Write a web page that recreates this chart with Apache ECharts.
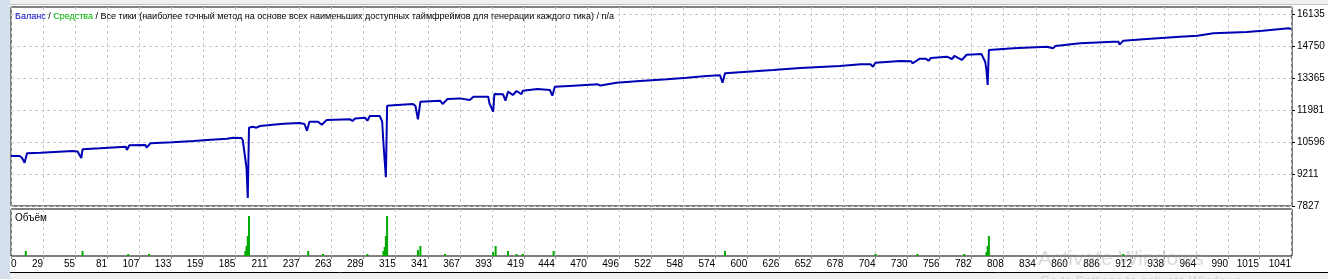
<!DOCTYPE html>
<html><head><meta charset="utf-8">
<script src="https://cdn.jsdelivr.net/npm/echarts@6/dist/echarts.min.js"></script>
<style>html,body{margin:0;padding:0;background:#fff;overflow:hidden}#c{width:1343px;height:279px}</style>
</head><body><div id="c"></div>
<script>
// Balance curve: trade number / balance
const balanceX = [3,10,12,14,16,27,53,57,60,61,75,96,97,99,112,113,116,134,151,162,178,183,190,191,194,195,196,199,202,205,211,224,237,241,243,245,252,255,259,278,280,282,290,292,294,302,304,305,307,308,316,329,331,333,335,351,353,357,367,375,378,390,391,394,395,402,404,406,410,413,417,418,430,440,442,444,459,479,481,482,494,513,535,551,567,578,580,582,600,621,643,659,675,692,700,702,704,724,733,734,740,745,747,749,762,766,768,774,778,790,793,794,795,796,816,843,848,850,870,897,901,902,905,924,951,965,978,1005,1018,1039,1041];
const balanceY = [9990,9990,9904,9701,10107,10133,10207,10185,9904,10280,10324,10393,10250,10454,10466,10350,10540,10583,10640,10683,10739,10782,10765,10661,9471,8173,11215,11258,11215,11289,11319,11388,11418,11375,11085,11475,11475,11345,11548,11577,11505,11613,11648,11518,11721,11721,11475,10553,9069,12167,12197,12241,12155,11579,12340,12383,12240,12454,12484,12414,12557,12557,12271,11907,12673,12661,12383,12773,12630,12803,12661,12817,12890,12846,12600,12989,13034,13093,13040,13107,13162,13236,13310,13379,13452,13483,13162,13569,13639,13712,13798,13842,13885,13958,13958,13855,14028,14101,14092,14001,14201,14201,14114,14231,14287,14188,14318,14145,14374,14400,14071,13712,13063,14577,14651,14720,14651,14750,14867,14936,14936,14807,14980,15053,15153,15196,15300,15357,15412,15517,15486];
// Volume pane
const volumeX = [15,61,98,115,193,194,195,196,244,256,292,305,306,307,308,333,335,355,394,396,406,413,418,443,582,704,738,776,794,795,796,905];
const volumeY = [5,5,2,2,5,10,20,40,5,2,2,5,9,20,40,6,10,2,4,10,5,2,2,5,5,2,2,2,4,10,20,2];
// Axis tick labels
const xTickLabels = [0,29,55,81,107,133,159,185,211,237,263,289,315,341,367,393,419,444,470,496,522,548,574,600,626,652,678,704,730,756,782,808,834,860,886,912,938,964,990,1015,1041];
const yTickLabels = [7827,9211,10596,11981,13365,14750,16135];

const X_MIN = 3, X_MAX = 1041.8, Y_MIN = 7827, Y_MAX = 16438;
const FONT = 'Liberation Sans';
const xPositions = xTickLabels.map(v => Math.max(v, X_MIN));
const gridDash = {show:true, lineStyle:{color:'#c8c8c8', type:[3,3], width:1}};

const chart = echarts.init(document.getElementById('c'), null, {renderer:'canvas'});
chart.setOption({
  animation:false,
  backgroundColor:'#ffffff',
  title:{
    left:15, top:12, padding:0,
    text:'{b|Баланс} / {g|Средства} / Все тики (наиболее точный метод на основе всех наименьших доступных таймфреймов для генерации каждого тика) / n/a',
    textStyle:{fontFamily:FONT, fontSize:9, fontWeight:'normal', color:'#000',
      rich:{b:{color:'#0000c8', fontFamily:FONT, fontSize:9}, g:{color:'#00b400', fontFamily:FONT, fontSize:9}}}
  },
  grid:[
    {left:11, top:7, width:1281, height:199, show:true, borderColor:'#000', borderWidth:1, backgroundColor:'#fff', z:0},
    {left:11, top:209, width:1281, height:47, show:true, borderColor:'#000', borderWidth:1, backgroundColor:'#fff', z:0}
  ],
  xAxis:[
    {type:'value', gridIndex:0, min:X_MIN, max:X_MAX,
      axisLine:{show:false}, axisLabel:{show:false},
      axisTick:{show:false, customValues:xPositions},
      splitLine:gridDash},
    {type:'value', gridIndex:1, min:X_MIN, max:X_MAX,
      axisLine:{show:false},
      axisTick:{show:true, length:3, lineStyle:{color:'#888'}, customValues:xPositions},
      axisLabel:{show:true, customValues:xPositions, align:'right', alignMinLabel:'left', margin:3,
        fontFamily:FONT, fontSize:10, color:'#000',
        formatter:(v)=>{const i = xPositions.indexOf(v); return i>=0 ? String(xTickLabels[i]) : '';}},
      splitLine:gridDash}
  ],
  yAxis:[
    {type:'value', gridIndex:0, position:'right', min:Y_MIN, max:Y_MAX,
      axisLine:{show:false},
      axisTick:{show:true, length:3, lineStyle:{color:'#000'}, customValues:yTickLabels},
      axisLabel:{show:true, customValues:yTickLabels, margin:5, fontFamily:FONT, fontSize:10, color:'#000',
        formatter:(v)=>String(Math.round(v))},
      splitLine:gridDash},
    {type:'value', gridIndex:1, min:0, max:47, show:false, splitLine:{show:false}}
  ],
  series:[
    {type:'line', xAxisIndex:0, yAxisIndex:0, name:'Баланс',
      data:balanceX.map((x,i)=>[x,balanceY[i]]),
      showSymbol:false, symbol:'none', lineStyle:{width:2, color:'#0000b4'}, silent:true, z:3},
    {type:'bar', xAxisIndex:1, yAxisIndex:1, name:'Объём',
      data:volumeX.map((x,i)=>[x,volumeY[i]]),
      barWidth:2, itemStyle:{color:'#00aa00'}, silent:true, z:3}
  ],
  graphic:[
    {type:'rect', left:0, top:0, shape:{x:0,y:0,width:10,height:279}, style:{fill:'#d5e0ec'}, z:10},
    {type:'rect', shape:{x:10,y:0,width:1318,height:4}, style:{fill:'#f0f0f0'}, z:10},
    {type:'line', shape:{x1:10,y1:4.5,x2:1328,y2:4.5}, style:{stroke:'#c0c0c0', lineWidth:1}, z:10},
    {type:'rect', shape:{x:10,y:273,width:1318,height:6}, style:{fill:'#f0f0f0'}, z:10},
    {type:'line', shape:{x1:10,y1:272.5,x2:1328,y2:272.5}, style:{stroke:'#000', lineWidth:1}, z:10},
    {type:'text', x:15, y:218, style:{text:'Объём', fontFamily:FONT, fontSize:10, fill:'#000', verticalAlign:'middle'}, z:10},
    {type:'text', x:1038, y:249, style:{text:'Activate Windows', fontFamily:FONT, fontSize:21, fill:'rgba(150,150,150,0.35)'}, z:20},
    {type:'text', x:1040, y:275, style:{text:'Go to Settings to activate Windows.', fontFamily:FONT, fontSize:13, fill:'rgba(150,150,150,0.35)'}, z:20}
  ]
});
</script></body></html>
